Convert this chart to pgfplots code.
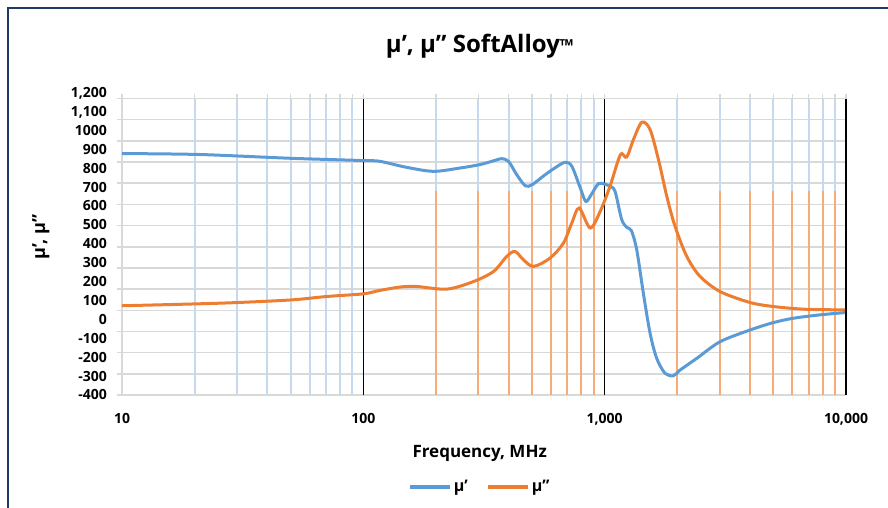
\documentclass[border=0pt]{standalone}
\usepackage{pgfplots}
\pgfplotsset{compat=1.18}
\usepackage{fontspec}
\setmainfont{Open Sans}

\definecolor{muone}{HTML}{5B9BD5}
\definecolor{mutwo}{HTML}{ED7D31}
\definecolor{gridblue}{HTML}{C6DAEF}
\definecolor{gridorange}{HTML}{F5AC78}
\definecolor{gridgray}{HTML}{D9D9D9}
\definecolor{framecol}{HTML}{1F3B64}

\begin{document}
\begin{tikzpicture}[x=1pt,y=1pt]
\path[use as bounding box] (0,0) rectangle (888,508);
\draw[framecol, line width=2pt] (8,0) -- (8,500) -- (888,500);
\begin{axis}[
    at={(122pt,113pt)}, anchor=south west,
    scale only axis, width=724pt, height=302.5pt,
    xmode=log, xmin=10, xmax=10000,
    ymin=-400, ymax=1200,
    axis line style={draw=none},
    tick style={draw=none},
    clip=false,
    xtick={10,100,1000,10000},
    xticklabels={10,100,{1,000},{10,000}},
    ytick={-400,-300,...,1200},
    yticklabels={-400,-300,-200,-100,0,100,200,300,400,500,600,700,800,900,1000,{1,100},{1,200}},
    ticklabel style={font=\fontsize{14}{14}\selectfont\bfseries, inner sep=0pt},
    xticklabel style={anchor=base, yshift=-28pt},
    yticklabel style={anchor=base east, xshift=-15pt, yshift=-5pt},
    title={μ’, μ” SoftAlloy{\fontsize{18}{18}\selectfont ™}},
    title style={at={(axis description cs:0.494,1.114)}, anchor=base,
        font=\fontsize{24}{24}\selectfont\bfseries},
    xlabel={Frequency, MHz},
    xlabel style={at={(axis description cs:0.494,-0.208)}, anchor=base,
        font=\fontsize{17}{17}\selectfont\bfseries},
    ylabel={μ’, μ”},
    ylabel style={at={(axis description cs:-0.112,0.522)}, anchor=center,
        font=\fontsize{18}{18}\selectfont\bfseries},
    legend style={at={(axis description cs:0.494,-0.304)}, anchor=center,
        draw=none, fill=none, legend columns=2,
        font=\fontsize{16}{16}\selectfont\bfseries,
        /tikz/every even column/.append style={column sep=16pt}},
    legend image code/.code={\draw[#1, line width=4pt] (0pt,0pt) -- (40pt,0pt);},
]
% horizontal grid (15 lines) and left tick marks
\pgfplotsinvokeforeach{-400,-288,-176,-64,48,160,272,384,496,608,720,832,944,1056,1168}{
  \draw[gridgray, line width=1.5pt] (axis cs:10,#1) -- (axis cs:10000,#1);
  \draw[gridgray, line width=1.5pt] (axis cs:10,#1) -- ++(-5pt,0pt);
}
% vertical grid
\pgfplotsinvokeforeach{20,30,40,50,60,70,80,90,200,300,400,500,600,700,800,900,2000,3000,4000,5000,6000,7000,8000,9000}{
  \draw[gridblue, line width=2pt] (axis cs:#1,-400) -- (axis cs:#1,1168);
}
\pgfplotsinvokeforeach{200,300,400,500,600,700,800,900,2000,3000,4000,5000,6000,7000,8000,9000}{
  \draw[gridorange, line width=2pt] (axis cs:#1,-400) -- (axis cs:#1,680);
}
\pgfplotsinvokeforeach{10,20,30,40,50,60,70,80,90,100,200,300,400,500,600,700,800,900,1000,2000,3000,4000,5000,6000,7000,8000,9000,10000}{
  \draw[gridgray, line width=1.5pt] (axis cs:#1,1168) -- ++(0pt,5pt);
}
\draw[gridgray, line width=1.5pt] (axis cs:10,-400) -- (axis cs:10,1168);
\pgfplotsinvokeforeach{100,1000,10000}{
  \draw[black, line width=1.6pt] (axis cs:#1,-400) -- (axis cs:#1,1168);
}

\addplot[muone, line width=3pt, smooth, tension=0.5] coordinates {
(10,877) (21,872) (50,852) (100,840) (117,836) (150,805) (195,783) (250,800)
(305,819) (345,838) (375,850) (400,835) (430,770) (468,707) (500,712) (560,760)
(620,800) (686,831) (731,810) (790,700) (835,624) (880,660) (942,718) (1000,715)
(1052,704) (1104,677) (1177,527) (1240,485) (1290,470) (1358,368) (1446,139)
(1542,-73) (1643,-206) (1778,-285) (1927,-298) (2054,-268) (2409,-206)
(3009,-118) (4007,-56) (5003,-17) (6053,6) (7813,24) (9913,36)
};
\addlegendentry{μ’}
\addplot[mutwo, line width=3pt, smooth, tension=0.5] coordinates {
(10,72) (20.4,82) (30,89) (50.5,103) (70.5,121) (100,135) (117,153) (142,171)
(166,174) (222,160) (286,200) (346,253) (393,333) (425,359) (461,315) (507,280)
(594,324) (675,404) (731,510) (784,589) (871,483) (958,571) (1052,704)
(1140,845) (1177,877) (1235,859) (1316,951) (1425,1043) (1542,1004) (1671,845)
(1809,651) (1957,492) (2189,333) (2485,227) (3009,147) (4007,89) (5003,68)
(6671,54) (9913,50)
};
\addlegendentry{μ”}
\end{axis}
\end{tikzpicture}
\end{document}
